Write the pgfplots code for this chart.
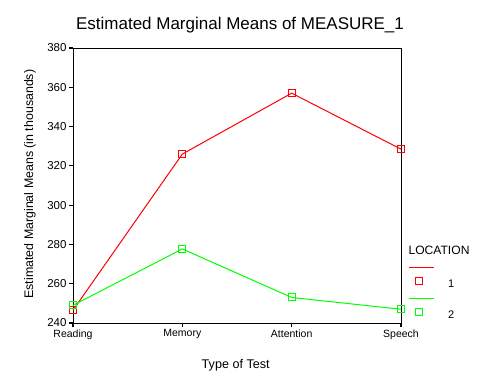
\documentclass[border=0pt]{standalone}
\usepackage{pgfplots}
\pgfplotsset{compat=1.18}
\usepackage{fontspec}
\setmainfont{Liberation Sans}
\definecolor{sred}{RGB}{255,0,0}
\definecolor{sgreen}{RGB}{0,255,0}
\begin{document}
\begin{tikzpicture}[x=1pt,y=1pt]
\useasboundingbox (0,0) rectangle (480,384);
\node[font=\fontsize{17}{19}\selectfont, anchor=base] at (240,354) {Estimated Marginal Means of MEASURE\_1};
\begin{axis}[
  at={(73pt,61pt)}, anchor=south west,
  scale only axis, width=328pt, height=275pt,
  xmin=0, xmax=3, ymin=240, ymax=380,
  xtick={0,1,2,3}, xticklabels={Reading,Memory,Attention,Speech},
  ytick={240,260,...,380},
  tick align=outside, major tick length=4pt,
  xtick pos=bottom, ytick pos=left,
  tick style={black, line width=1.2pt},
  axis line style={line width=0.8pt},
  /pgf/number format/assume math mode=true,
  yticklabel style={font=\fontsize{11.5}{12}\selectfont, xshift=1pt},
  xticklabel style={font=\fontsize{10.5}{12}\selectfont, yshift=1pt},
  xlabel={Type of Test},
  ylabel={Estimated Marginal Means (in thousands)},
  xlabel style={font=\fontsize{12.6}{14}\selectfont, at={(axis description cs:0.496,0)}, anchor=base, yshift=-45pt},
  ylabel style={font=\fontsize{12.4}{14}\selectfont, at={(axis description cs:-0.131,0.505)}, anchor=center},
  clip=false,
  legend style={at={(rel axis cs:1.012,0.21)}, anchor=north west, draw=none, fill=none,
    font=\fontsize{11}{12}\selectfont, row sep=14pt},
  legend cell align=left,
  legend image code/.code={
    \draw[#1, mark=none, line width=1pt] (0pt,13pt) -- (25pt,13pt);
    \draw[#1, only marks] plot coordinates {(10pt,0pt)};
  },
]
\addplot[sred, line width=1pt, mark=square, mark size=3.5pt, mark options={line width=1pt}]
  coordinates {(0,246.5) (1,326) (2,357) (3,328.5)};
\addlegendentry{\hspace{12pt}\raisebox{-7pt}{1}}
\addplot[sgreen, line width=1pt, mark=square, mark size=3.5pt, mark options={line width=1pt}]
  coordinates {(0,249) (1,277.7) (2,253) (3,247)};
\addlegendentry{\hspace{12pt}\raisebox{-7pt}{2}}
\end{axis}
\node[font=\fontsize{12.1}{14}\selectfont, anchor=base west] at (405,130) {LOCATION};
\end{tikzpicture}
\end{document}
